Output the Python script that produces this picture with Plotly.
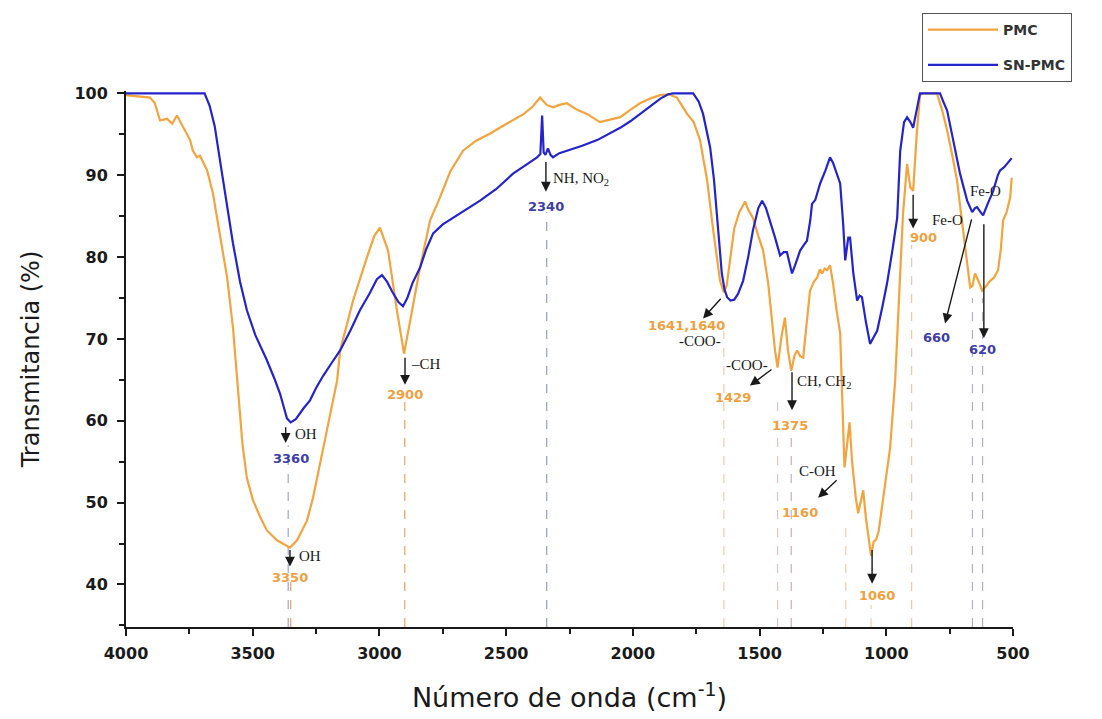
import plotly.graph_objects as go

# FTIR spectra: wavenumber (cm-1) and transmittance (%)
pmc_wn = [4000, 3945, 3905, 3886, 3866, 3838, 3818, 3799, 3767, 3747, 3736, 3720, 3708, 3680,
          3657, 3629, 3601, 3578, 3558, 3540, 3523, 3499, 3470, 3444, 3404, 3375, 3353, 3325,
          3286, 3262, 3234, 3195, 3167, 3155, 3104, 3049, 3020, 2998, 2966, 2931, 2903, 2871,
          2840, 2800, 2761, 2720, 2670, 2620, 2563, 2520, 2473, 2430, 2395, 2366, 2340, 2315,
          2290, 2260, 2220, 2181, 2130, 2090, 2050, 2010, 1972, 1930, 1893, 1860, 1826, 1786,
          1760, 1735, 1707, 1683, 1656, 1641, 1630, 1615, 1600, 1580, 1557, 1545, 1526, 1505,
          1486, 1466, 1450, 1439, 1429, 1415, 1400, 1388, 1375, 1362, 1352, 1340, 1328, 1315,
          1301, 1285, 1273, 1262, 1253, 1243, 1234, 1222, 1210, 1196, 1182, 1172, 1165, 1155,
          1145, 1135, 1120, 1111, 1100, 1091, 1080, 1068, 1060, 1050, 1040, 1030, 1013, 1000,
          985, 965, 950, 934, 918, 905, 894, 880, 867, 855, 830, 800, 780, 760, 740, 721, 697,
          680, 669, 660, 650, 635, 622, 605, 590, 575, 559, 548, 539, 525, 511, 505]
pmc_t = [99.8, 99.6, 99.5, 98.8, 96.7, 96.9, 96.3, 97.3, 95.5, 94.3, 93.0, 92.2, 92.4, 90.6,
         87.8, 82.9, 77.5, 71.4, 63.3, 57.0, 53.0, 50.3, 48.2, 46.6, 45.4, 44.9, 44.5, 45.4,
         47.8, 50.6, 54.8, 60.9, 64.9, 68.6, 74.7, 80.0, 82.6, 83.6, 80.8, 73.5, 68.2, 73.5,
         78.7, 84.5, 87.3, 90.5, 93.0, 94.2, 95.1, 95.9, 96.7, 97.5, 98.4, 99.5, 98.6, 98.3,
         98.6, 98.8, 98.0, 97.5, 96.5, 96.8, 97.1, 98.0, 98.8, 99.4, 99.8, 99.9, 99.5, 97.5,
         96.5, 94.3, 89.4, 83.3, 77.1, 75.7, 76.5, 80.0, 83.5, 85.5, 86.8, 85.8, 84.8, 82.6,
         80.8, 76.8, 71.5, 68.6, 66.5, 70.0, 72.6, 68.6, 66.1, 68.0, 68.6, 67.9, 67.7, 71.5,
         75.9, 77.0, 77.5, 78.5, 78.0, 78.6, 78.4, 79.0, 76.8, 73.5, 70.7, 61.0, 54.3, 57.0,
         59.8, 55.0, 50.5, 48.7, 50.5, 51.5, 48.0, 45.0, 43.5, 45.2, 45.5, 46.5, 50.6, 53.5,
         56.7, 64.9, 74.0, 85.3, 91.4, 88.5, 88.1, 95.0, 99.8, 100.0, 100.0, 100.0, 98.0, 95.5,
         92.5, 89.4, 83.3, 79.0, 76.3, 76.5, 78.0, 77.0, 75.9, 76.5, 77.1, 77.5, 78.4, 81.0,
         84.5, 85.5, 87.3, 89.7]

snpmc_wn = [4000, 3690, 3670, 3650, 3629, 3600, 3578, 3550, 3523, 3490, 3444, 3415, 3392, 3375,
            3365, 3350, 3330, 3300, 3274, 3250, 3222, 3190, 3155, 3115, 3077, 3040, 3010, 2990,
            2970, 2950, 2925, 2907, 2890, 2870, 2840, 2815, 2788, 2750, 2710, 2660, 2603, 2540,
            2473, 2420, 2378, 2365, 2358, 2352, 2345, 2335, 2325, 2315, 2290, 2260, 2200, 2141,
            2100, 2050, 2010, 1972, 1930, 1890, 1860, 1841, 1762, 1740, 1723, 1708, 1695, 1680,
            1668, 1655, 1649, 1638, 1628, 1615, 1600, 1585, 1565, 1545, 1526, 1505, 1490, 1475,
            1459, 1440, 1419, 1405, 1392, 1380, 1372, 1360, 1340, 1325, 1313, 1300, 1293, 1280,
            1261, 1240, 1222, 1210, 1200, 1194, 1182, 1170, 1162, 1150, 1143, 1130, 1115, 1105,
            1096, 1080, 1064, 1050, 1036, 1015, 997, 975, 957, 945, 930, 918, 905, 894, 885, 878,
            867, 788, 775, 760, 736, 709, 681, 661, 650, 642, 630, 618, 600, 578, 560, 551, 535,
            523, 505]
snpmc_t = [100.0, 100.0, 98.5, 96.0, 91.8, 86.0, 81.7, 77.0, 73.5, 70.5, 67.4, 65.2, 63.3, 61.4,
           60.3, 59.8, 60.2, 61.5, 62.5, 64.0, 65.5, 67.0, 68.6, 71.0, 73.5, 75.5, 77.3, 77.8,
           77.0, 75.8, 74.5, 74.0, 75.0, 76.8, 78.7, 81.0, 82.9, 84.0, 84.8, 85.8, 86.9, 88.3,
           90.2, 91.3, 92.2, 92.6, 97.3, 92.8, 92.5, 93.3, 92.5, 92.2, 92.7, 93.0, 93.6, 94.3,
           95.0, 95.8, 96.6, 97.5, 98.5, 99.4, 99.9, 100.0, 100.0, 99.0, 97.5, 95.5, 93.4, 89.5,
           85.3, 80.5, 78.0, 76.0, 75.1, 74.7, 74.8, 75.5, 77.1, 80.0, 83.3, 86.0, 86.9, 86.0,
           84.5, 82.5, 80.2, 80.6, 80.6, 79.0, 78.0, 79.0, 80.8, 81.5, 82.0, 84.5, 86.5, 87.0,
           89.0, 90.6, 92.2, 91.5, 90.6, 90.2, 89.0, 84.0, 79.6, 82.4, 82.4, 78.0, 74.7, 75.3,
           75.1, 72.0, 69.4, 70.2, 71.0, 74.0, 76.8, 81.0, 84.8, 93.0, 96.5, 97.1, 96.5, 95.8,
           97.5, 98.3, 100.0, 100.0, 99.0, 97.9, 94.3, 90.2, 86.9, 85.5, 86.0, 86.1, 85.6, 85.1,
           86.5, 88.1, 90.0, 90.6, 91.0, 91.4, 92.1]

x_ticks = [4000, 3500, 3000, 2500, 2000, 1500, 1000, 500]
y_ticks = [40, 50, 60, 70, 80, 90, 100]

ORANGE = "#F3A43E"
BLUE = "#2424CC"
ORANGE_TXT = "#EFA040"
BLUE_TXT = "#3E3EA6"
Y_MIN, Y_MAX = 34.8, 100.3

fig = go.Figure()
fig.add_trace(go.Scatter(x=pmc_wn, y=pmc_t, mode="lines", name="PMC",
                         line=dict(color=ORANGE, width=2.2), legendgroup="a"))
fig.add_trace(go.Scatter(x=snpmc_wn, y=snpmc_t, mode="lines", name="SN-PMC",
                         line=dict(color=BLUE, width=2.2), legendgroup="b"))

# dashed drop lines under the assigned bands: (wavenumber, top, colour)
drop_lines = [
    (3360, 57.0, "rgba(80,90,170,0.55)"),
    (3350, 41.0, "rgba(220,140,60,0.8)"),
    (2900, 62.5, "rgba(220,140,60,0.8)"),
    (2340, 85.5, "rgba(80,90,170,0.6)"),
    (1641, 71.0, "rgba(240,160,100,0.55)"),
    (1429, 63.0, "rgba(200,150,150,0.55)"),
    (1375, 58.0, "rgba(150,130,140,0.6)"),
    (1160, 48.0, "rgba(240,160,100,0.55)"),
    (1060, 37.5, "rgba(240,160,100,0.5)"),
    (900, 81.5, "rgba(240,160,100,0.6)"),
    (660, 75.0, "rgba(110,110,160,0.55)"),
    (620, 75.0, "rgba(110,110,160,0.55)"),
]
for wn, top, col in drop_lines:
    fig.add_shape(type="line", xref="x", yref="y", x0=wn, x1=wn, y0=Y_MIN, y1=top,
                  line=dict(color=col, width=1.2, dash="dash"), layer="below")

# arrows: (head x, head y, tail x, tail y)
arrows = [
    (3370, 57.3, 3370, 59.4),
    (3353, 42.2, 3353, 44.4),
    (2899, 64.4, 2899, 67.9),
    (2343, 88.0, 2343, 91.8),
    (1723, 72.5, 1648, 75.1),
    (1538, 64.3, 1447, 66.4),
    (1372, 61.3, 1372, 66.1),
    (1269, 50.6, 1190, 52.9),
    (1056, 40.1, 1056, 44.4),
    (894, 83.5, 894, 87.8),
    (768, 71.9, 662, 84.8),
    (615, 70.1, 615, 84.2),
]
for hx, hy, tx, ty in arrows:
    fig.add_annotation(x=hx, y=hy, ax=tx, ay=ty, xref="x", yref="y", axref="x", ayref="y",
                       text="", showarrow=True, arrowhead=2, arrowsize=1.4,
                       arrowwidth=1.4, arrowcolor="#1a1a1a")

# band positions (coloured numbers)
num_font = dict(family="DejaVu Sans", size=13, weight="bold")
band_labels = [
    ("3360", 3349, 55.4, BLUE_TXT),
    ("3350", 3353, 40.9, ORANGE_TXT),
    ("2900", 2901, 63.2, ORANGE_TXT),
    ("2340", 2343, 86.2, BLUE_TXT),
    ("1641,1640", 1790, 71.6, ORANGE_TXT),
    ("1429", 1605, 62.8, ORANGE_TXT),
    ("1375", 1380, 59.4, ORANGE_TXT),
    ("1160", 1340, 48.8, ORANGE_TXT),
    ("1060", 1037, 38.7, ORANGE_TXT),
    ("900", 855, 82.4, ORANGE_TXT),
    ("660", 800, 70.2, BLUE_TXT),
    ("620", 622, 68.7, BLUE_TXT),
]
for txt, x, y, col in band_labels:
    fig.add_annotation(x=x, y=y, text=txt, showarrow=False, xref="x", yref="y",
                       font=dict(color=col, **num_font))

# functional group assignments
grp_font = dict(family="Liberation Serif", size=15, color="#1a1a1a")
group_labels = [
    ("OH", 3340, 58.4, "left"),
    ("OH", 3325, 43.5, "left"),
    ("–CH", 2885, 67.0, "left"),
    ("NH, NO<sub>2</sub>", 2322, 89.6, "left"),
    ("-COO-", 1735, 69.8, "center"),
    ("-COO-", 1550, 66.8, "center"),
    ("CH, CH<sub>2</sub>", 1362, 64.8, "left"),
    ("C-OH", 1273, 53.9, "center"),
    ("Fe-O", 760, 84.5, "center"),
    ("Fe-O", 610, 88.1, "center"),
]
for txt, x, y, anchor in group_labels:
    fig.add_annotation(x=x, y=y, text=txt, showarrow=False, xref="x", yref="y",
                       xanchor=anchor, font=grp_font)

tick_font = dict(family="DejaVu Sans", size=16, weight="bold", color="#1a1a1a")
fig.update_xaxes(
    range=[4000, 500], tickvals=x_ticks, ticks="outside", ticklen=7, tickwidth=2,
    tickcolor="#1a1a1a", showline=True, linewidth=2, linecolor="#1a1a1a",
    showgrid=False, zeroline=False, tickfont=tick_font, ticklabelstandoff=4,
    automargin=False,
    minor=dict(dtick=250, tick0=500, ticks="outside", ticklen=5, tickwidth=2,
               tickcolor="#1a1a1a"),
    title=dict(text="Número de onda (cm<sup>-1</sup>)", standoff=26,
               font=dict(family="DejaVu Sans", size=27, color="#1a1a1a")),
)
fig.update_yaxes(
    range=[Y_MIN, Y_MAX], tickvals=y_ticks, ticks="outside", ticklen=7, tickwidth=2,
    tickcolor="#1a1a1a", showline=True, linewidth=2, linecolor="#1a1a1a",
    showgrid=False, zeroline=False, tickfont=tick_font, ticklabelstandoff=6,
    automargin=False,
    minor=dict(dtick=5, tick0=35, ticks="outside", ticklen=5, tickwidth=2,
               tickcolor="#1a1a1a"),
    title=dict(text="Transmitancia (%)", standoff=28,
               font=dict(family="DejaVu Sans", size=24, color="#1a1a1a")),
)

fig.update_layout(
    width=1102, height=719,
    margin=dict(l=126, r=89, t=91, b=92, autoexpand=False),
    paper_bgcolor="white", plot_bgcolor="white",
    showlegend=True,
    legend=dict(x=0.8974, y=1.1455, xanchor="left", yanchor="top",
                bordercolor="#555555", borderwidth=1, bgcolor="white",
                font=dict(family="DejaVu Sans", size=14, weight="bold", color="#333333"),
                itemwidth=70, tracegroupgap=14),
)

fig.write_html("out.html")
